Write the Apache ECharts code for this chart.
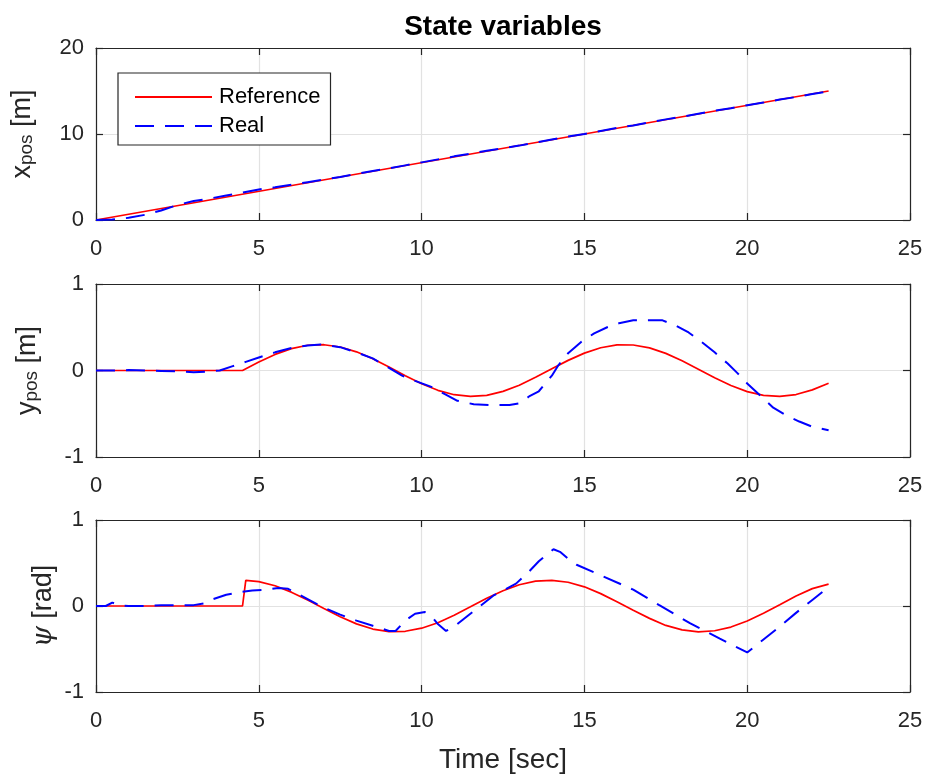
<!DOCTYPE html>
<html>
<head>
<meta charset="utf-8">
<title>State variables</title>
<script src="https://cdn.jsdelivr.net/npm/echarts@6/dist/echarts.min.js"></script>
<style>
  html, body { margin: 0; padding: 0; background: #ffffff; }
  #chart { width: 927px; height: 775px; }
</style>
</head>
<body>
<div id="chart"></div>
<script>
// ---- Reference trajectory (red) ----
const refXTime = [0, 22.5];
const refXPos = [0, 15];

const refTime = [0, 0.5, 1, 1.5, 2, 2.5, 3, 3.5, 4, 4.5, 5, 5.5, 6, 6.5, 7, 7.5, 8, 8.5, 9, 9.5,
  10, 10.5, 11, 11.5, 12, 12.5, 13, 13.5, 14, 14.5, 15, 15.5, 16, 16.5, 17, 17.5, 18, 18.5,
  19, 19.5, 20, 20.5, 21, 21.5, 22, 22.5];
const refYPos = [0, 0, 0, 0, 0, 0, 0, 0, 0, 0, 0.098, 0.186, 0.253, 0.292, 0.298, 0.272, 0.216, 0.135,
  0.040, -0.060, -0.153, -0.229, -0.280, -0.300, -0.287, -0.241, -0.170, -0.079, 0.020, 0.117,
  0.201, 0.263, 0.296, 0.295, 0.261, 0.198, 0.113, 0.015, -0.084, -0.173, -0.244, -0.288,
  -0.300, -0.278, -0.224, -0.147];

const refPsiTime = [0, 0.5, 1, 1.5, 2, 2.5, 3, 3.5, 4, 4.5, 4.6, 5, 5.5, 6, 6.5, 7, 7.5, 8, 8.5, 9, 9.5,
  10, 10.5, 11, 11.5, 12, 12.5, 13, 13.5, 14, 14.5, 15, 15.5, 16, 16.5, 17, 17.5, 18, 18.5,
  19, 19.5, 20, 20.5, 21, 21.5, 22, 22.5];
const refPsi = [0, 0, 0, 0, 0, 0, 0, 0, 0, 0, 0.299, 0.283, 0.235, 0.161, 0.069, -0.030, -0.126, -0.208,
  -0.268, -0.297, -0.294, -0.258, -0.194, -0.108, -0.010, 0.089, 0.178, 0.247, 0.289, 0.299,
  0.276, 0.223, 0.144, 0.050, -0.050, -0.144, -0.226, -0.278, -0.300, -0.288, -0.245, -0.174,
  -0.084, 0.014, 0.116, 0.202, 0.255];

// ---- Measured vehicle states (blue, dashed) ----
const realXTime = [0, 0.5, 1, 1.5, 2, 2.5, 3, 3.5, 4, 4.5, 5, 5.5, 6, 6.5, 7, 7.5, 8, 8.5, 9, 9.5,
  10, 10.5, 11, 11.5, 12, 12.5, 13, 13.5, 14, 14.5, 15, 15.5, 16, 16.5, 17, 17.5, 18, 18.5,
  19, 19.5, 20, 20.5, 21, 21.5, 22, 22.5];
const realXPos = [0, 0.05, 0.25, 0.6, 1.1, 1.75, 2.2, 2.5, 2.85, 3.2, 3.55, 3.8, 4.1, 4.4, 4.7, 5.0,
  5.35, 5.7, 6.0, 6.35, 6.7, 7.05, 7.4, 7.7, 8.05, 8.35, 8.65, 9.0, 9.35, 9.7, 10.0, 10.35,
  10.7, 11.0, 11.35, 11.7, 12.0, 12.35, 12.7, 13.0, 13.35, 13.65, 14.0, 14.3, 14.65, 14.95];

const realYTime = [0, 0.5, 1, 1.5, 2, 2.5, 3, 3.5, 3.8, 4.2, 4.6, 5, 5.5, 6, 6.5, 6.9, 7.5, 8, 8.5, 9,
  9.4, 9.8, 10.3, 10.7, 11.1, 11.6, 12.2, 12.7, 13, 13.3, 13.6, 14, 14.2, 14.5, 14.9, 15.3,
  15.7, 16.1, 16.5, 17, 17.4, 17.8, 18.2, 18.6, 19, 19.4, 19.7, 20, 20.4, 20.8, 21.2, 21.6,
  22, 22.5];
const realYPos = [0, 0, 0.005, 0, -0.005, -0.01, -0.02, -0.01, 0, 0.05, 0.1, 0.15, 0.21, 0.26, 0.29,
  0.30, 0.27, 0.21, 0.14, 0.03, -0.06, -0.12, -0.19, -0.27, -0.35, -0.39, -0.40, -0.40, -0.38,
  -0.30, -0.24, -0.06, 0.06, 0.20, 0.33, 0.43, 0.50, 0.55, 0.58, 0.58, 0.58, 0.52, 0.44, 0.33,
  0.21, 0.08, -0.03, -0.15, -0.29, -0.43, -0.52, -0.59, -0.65, -0.69];

const realPsiTime = [0, 0.3, 0.5, 0.7, 1, 1.5, 2, 2.5, 3, 3.3, 3.6, 4, 4.4, 4.8, 5.2, 5.6, 5.9, 6.2,
  6.6, 7, 7.5, 8, 8.5, 9, 9.2, 9.5, 9.8, 10.1, 10.3, 10.5, 10.75, 11, 11.4, 11.8, 12.2, 12.6,
  12.9, 13.3, 13.6, 13.85, 14.05, 14.25, 14.5, 14.76, 15.48, 16.5, 17.3, 18.24, 19.16, 20, 20.5,
  21, 21.5, 22, 22.5];
const realPsi = [0, 0, 0.04, 0.01, 0, 0, 0.01, 0.01, 0.01, 0.03, 0.08, 0.13, 0.16, 0.18, 0.19, 0.21,
  0.20, 0.14, 0.06, -0.02, -0.10, -0.17, -0.23, -0.29, -0.29, -0.17, -0.09, -0.07, -0.12, -0.21,
  -0.29, -0.24, -0.12, 0, 0.12, 0.20, 0.26, 0.40, 0.52, 0.60, 0.66, 0.63, 0.55, 0.48, 0.36, 0.19,
  0.01, -0.20, -0.38, -0.54, -0.39, -0.24, -0.08, 0.07, 0.22];

// ---- Axis settings ----
const timeTicks = { min: 0, max: 25, interval: 5 };
const yRanges = [
  { min: 0, max: 20, interval: 10 },
  { min: -1, max: 1, interval: 1 },
  { min: -1, max: 1, interval: 1 }
];
const seriesNames = ['Reference', 'Real'];

const pairs = (ts, vs) => ts.map((t, i) => [t, vs[i]]);

const FONT = 'Liberation Sans, Arial, Helvetica, sans-serif';
const INK = '#262626';
const GRIDC = '#e2e2e2';
const RED = '#ff0000';
const BLUE = '#0000ff';

const grids = [
  { left: 96, right: 17, top: 48, height: 172, outerBoundsMode: 'none', containLabel: false },
  { left: 96, right: 17, top: 284, height: 173, outerBoundsMode: 'none', containLabel: false },
  { left: 96, right: 17, top: 520, height: 172, outerBoundsMode: 'none', containLabel: false }
];

// Rotated y-axis names; the "pos" subscript is pushed down with a short line box.
const nameRich = {
  m: { fontSize: 27, lineHeight: 27, verticalAlign: 'bottom', color: INK, fontFamily: FONT },
  s: { fontSize: 19, lineHeight: 4, verticalAlign: 'bottom', color: INK, fontFamily: FONT },
  g: { fontSize: 27, lineHeight: 27, verticalAlign: 'bottom', color: INK,
       fontFamily: 'DejaVu Serif, serif', fontStyle: 'italic' }
};
const yNames = ['{m|x}{s|pos}{m| [m]}', '{m|y}{s|pos}{m| [m]}', '{g|ψ}{m| [rad]}'];
const yNameGaps = [60, 55, 39];

const frame = { show: true, onZero: false, lineStyle: { color: INK, width: 1.2 } };
const ticksIn = { show: true, inside: true, length: 7, lineStyle: { color: INK, width: 1.2 } };

const xAxes = [], yAxes = [];
grids.forEach((g, i) => {
  xAxes.push({
    type: 'value', gridIndex: i, position: 'bottom', ...timeTicks,
    axisLine: frame, axisTick: ticksIn,
    axisLabel: { show: true, margin: 18, fontSize: 22, color: INK, fontFamily: FONT },
    splitLine: { show: true, lineStyle: { color: GRIDC, width: 1.2 } },
    name: i === 2 ? 'Time [sec]' : '',
    nameLocation: 'middle', nameGap: 54, nameMoveOverlap: false,
    nameTextStyle: { fontSize: 28, color: INK, fontFamily: FONT }
  });
  xAxes.push({
    type: 'value', gridIndex: i, position: 'top', ...timeTicks,
    axisLine: frame, axisTick: ticksIn,
    axisLabel: { show: false }, splitLine: { show: false }
  });
  yAxes.push({
    type: 'value', gridIndex: i, position: 'left', ...yRanges[i],
    axisLine: frame, axisTick: ticksIn,
    axisLabel: { show: true, margin: 12, fontSize: 22, color: INK, fontFamily: FONT },
    splitLine: { show: true, lineStyle: { color: GRIDC, width: 1.2 } },
    name: yNames[i], nameLocation: 'middle', nameRotate: 90, nameGap: yNameGaps[i],
    nameMoveOverlap: false,
    nameTextStyle: { rich: nameRich }
  });
  yAxes.push({
    type: 'value', gridIndex: i, position: 'right', ...yRanges[i],
    axisLine: frame, axisTick: ticksIn,
    axisLabel: { show: false }, splitLine: { show: false }
  });
});

const redLine = { color: RED, width: 1.7, type: 'solid' };
const blueLine = { color: BLUE, width: 2, type: [19, 11] };
const lineSeries = (name, idx, data, style, z) => ({
  name, type: 'line', xAxisIndex: idx * 2, yAxisIndex: idx * 2, data,
  showSymbol: false, symbol: 'none', smooth: false, silent: true, animation: false,
  color: style.color, lineStyle: style, z
});

const option = {
  animation: false,
  backgroundColor: '#ffffff',
  title: {
    text: 'State variables', left: 503, top: 13, padding: 0, textAlign: 'center',
    textStyle: { fontSize: 28, fontWeight: 'bold', color: '#000000', fontFamily: FONT }
  },
  legend: {
    data: seriesNames, orient: 'vertical', left: 118, top: 73,
    padding: [13, 10, 8, 16], itemGap: 7, itemWidth: 77, itemHeight: 14,
    backgroundColor: '#ffffff', borderColor: INK, borderWidth: 1.2, borderRadius: 0,
    itemStyle: { opacity: 0 },
    textStyle: { fontSize: 22, color: '#000000', fontFamily: FONT, padding: [0, 0, 0, 2] },
    selectedMode: false
  },
  grid: grids,
  xAxis: xAxes,
  yAxis: yAxes,
  series: [
    lineSeries(seriesNames[0], 0, pairs(refXTime, refXPos), redLine, 3),
    lineSeries(seriesNames[1], 0, pairs(realXTime, realXPos), blueLine, 4),
    lineSeries(seriesNames[0], 1, pairs(refTime, refYPos), redLine, 3),
    lineSeries(seriesNames[1], 1, pairs(realYTime, realYPos), blueLine, 4),
    lineSeries(seriesNames[0], 2, pairs(refPsiTime, refPsi), redLine, 3),
    lineSeries(seriesNames[1], 2, pairs(realPsiTime, realPsi), blueLine, 4)
  ]
};

const chart = echarts.init(document.getElementById('chart'), null, { renderer: 'canvas' });
chart.setOption(option);
</script>
</body>
</html>
